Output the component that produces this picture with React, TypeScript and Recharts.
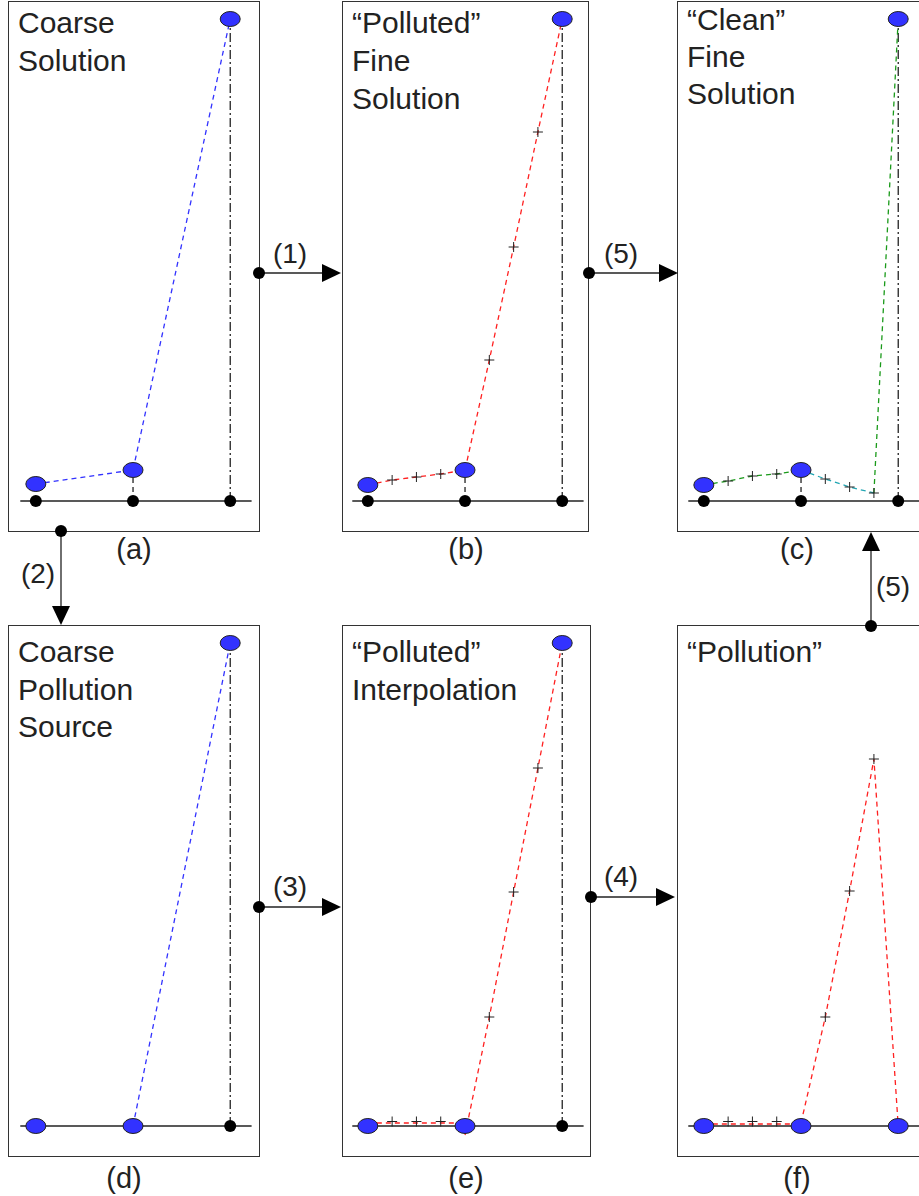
import React from "react";
import { ComposedChart, Line, Scatter, XAxis, YAxis } from "recharts";

// node positions (coarse grid) and fine grid
const nodeX = [0, 1, 2];
const fineX = [0, 0.25, 0.5, 0.75, 1, 1.25, 1.5, 1.75, 2];
const innerX = [0.25, 0.5, 0.75, 1.25, 1.5, 1.75];
const axisX = [-0.16, 2.22];

const coarseA = [1.7, 3.1, 48.2];
const fineB = [1.6, 2.1, 2.4, 2.7, 3.1, 14.1, 25.4, 36.9, 48.2];
const cleanC = [1.6, 2.0, 2.5, 2.7, 3.1, 2.2, 1.4, 0.8, 48.2];
const coarseD = [0, 0, 48.3];
const interpLowE = [0.3, 0.3, 0.3, 0.3, 0.3];
const interpHighE = [-0.9, 10.9, 23.4, 35.8, 48.3];
const interpPlusE = [0.45, 0.45, 0.45, 10.9, 23.4, 35.8];
const pollLowF = [0.2, 0.2, 0.2, 0.2, 0.2];
const pollHighF = [0.3, 10.9, 23.5, 36.7, 0];
const pollPlusF = [0.45, 0.45, 0.45, 10.9, 23.5, 36.7];
const nodeF = [0, 0, 0];

const FONT = '"Liberation Sans", Arial, sans-serif';
const BLUE = "#3232ff";
const RED = "#ff2020";
const GREEN = "#1a9a1a";
const CYAN = "#22a6b3";

type Pt = { x: number; y: number };
const pts = (xs: number[], ys: number[]): Pt[] => xs.map((x, i) => ({ x, y: ys[i] }));

interface LineSpec {
  data: Pt[];
  color: string;
  dash?: string;
  width?: number;
}

interface PanelProps {
  left: number;
  top: number;
  boxW: number;
  boxH: number;
  chartTop: number;
  x0: number; // pixel offset of node 0 inside the panel
  title: string[];
  titleTop: number;
  lineH: number;
  caption: string;
  captionX: number;
  captionY: number;
  lines: LineSpec[];
  pluses: Pt[];
  dots: Pt[];
  ellipses: Pt[];
}

const axisLine = (): LineSpec => ({ data: pts(axisX, [0, 0]), color: "#222", width: 1.4 });
const dashDot = (top: number): LineSpec => ({
  data: pts([2, 2], [0, top]),
  color: "#111",
  dash: "9 3 2 3",
  width: 1.2
});
const shortDash = (top: number): LineSpec => ({
  data: pts([1, 1], [0, top]),
  color: "#111",
  dash: "5 4",
  width: 1.2
});

const EllipseShape = (p: any) => (
  <ellipse cx={p.cx} cy={p.cy} rx={10} ry={7.5} fill={BLUE} stroke="#222" strokeWidth={1} />
);
const DotShape = (p: any) => <circle cx={p.cx} cy={p.cy} r={6} fill="#000" />;
const PlusShape = (p: any) => (
  <path
    d={`M${p.cx - 5},${p.cy}h10M${p.cx},${p.cy - 5}v10`}
    stroke="#222"
    strokeWidth={1}
    fill="none"
  />
);

const UNIT = 98; // px between coarse nodes

function Panel(props: PanelProps) {
  const { left, top, boxW, boxH, chartTop, x0 } = props;
  const mLeft = x0 - 0.2 * UNIT;
  const chartW = 252;
  const mRight = chartW - mLeft - 2.4 * UNIT;
  return (
    <>
      <div
        style={{
          position: "absolute",
          left,
          top,
          width: boxW,
          height: boxH,
          border: "1.5px solid #333",
          boxSizing: "border-box"
        }}
      />
      <div
        style={{
          position: "absolute",
          left: left + 10,
          top: props.titleTop,
          fontFamily: FONT,
          fontSize: 30,
          lineHeight: `${props.lineH}px`,
          color: "#222",
          whiteSpace: "pre"
        }}
      >
        {props.title.join("\n")}
      </div>
      <div
        style={{
          position: "absolute",
          left: props.captionX - 40,
          width: 80,
          top: props.captionY - 18,
          textAlign: "center",
          fontFamily: FONT,
          fontSize: 29,
          lineHeight: "36px",
          color: "#222"
        }}
      >
        {props.caption}
      </div>
      <div style={{ position: "absolute", left, top: chartTop }}>
        <ComposedChart
          width={chartW}
          height={530}
          margin={{ top: 0, right: mRight, bottom: 10, left: mLeft }}
        >
          <XAxis type="number" dataKey="x" domain={[-0.2, 2.2]} hide />
          <YAxis type="number" dataKey="y" domain={[-2, 50]} hide />
          {props.lines.map((l, i) => (
            <Line
              key={`l${i}`}
              data={l.data}
              dataKey="y"
              stroke={l.color}
              strokeWidth={l.width ?? 1.3}
              strokeDasharray={l.dash}
              dot={false}
              activeDot={false}
              isAnimationActive={false}
            />
          ))}
          <Scatter data={props.pluses} shape={PlusShape} isAnimationActive={false} />
          <Scatter data={props.dots} shape={DotShape} isAnimationActive={false} />
          <Scatter data={props.ellipses} shape={EllipseShape} isAnimationActive={false} />
        </ComposedChart>
      </div>
    </>
  );
}

function Arrow({ x1, y1, x2, y2 }: { x1: number; y1: number; x2: number; y2: number }) {
  const dx = x2 - x1;
  const dy = y2 - y1;
  const len = Math.hypot(dx, dy);
  const ux = dx / len;
  const uy = dy / len;
  const bx = x2 - ux * 19;
  const by = y2 - uy * 19;
  const px = -uy * 9;
  const py = ux * 9;
  return (
    <g>
      <line x1={x1} y1={y1} x2={bx} y2={by} stroke="#222" strokeWidth={1.3} />
      <polygon points={`${x2},${y2} ${bx + px},${by + py} ${bx - px},${by - py}`} fill="#000" />
      <circle cx={x1} cy={y1} r={6} fill="#000" />
    </g>
  );
}

const arrowLabels = [
  { t: "(1)", x: 290, y: 253 },
  { t: "(5)", x: 621, y: 253 },
  { t: "(2)", x: 38, y: 573 },
  { t: "(3)", x: 290, y: 886 },
  { t: "(4)", x: 621, y: 876 },
  { t: "(5)", x: 893, y: 586 }
];

export default function App() {
  const fineInner = (ys: number[]) => pts(innerX, [ys[1], ys[2], ys[3], ys[5], ys[6], ys[7]]);
  const nodeDots = pts(nodeX, [0, 0, 0]);

  return (
    <div
      style={{
        position: "absolute",
        left: 0,
        top: 0,
        width: 919,
        height: 1196,
        overflow: "hidden",
        background: "#fff"
      }}
    >
      <Panel
        left={8}
        top={1}
        boxW={252}
        boxH={531}
        chartTop={1}
        x0={28}
        title={["Coarse", "Solution"]}
        titleTop={4}
        lineH={38}
        caption="(a)"
        captionX={134}
        captionY={549}
        lines={[
          axisLine(),
          dashDot(48.2),
          shortDash(3.1),
          { data: pts(nodeX, coarseA), color: BLUE, dash: "5 4" }
        ]}
        pluses={[]}
        dots={nodeDots}
        ellipses={pts(nodeX, coarseA)}
      />
      <Panel
        left={342}
        top={1}
        boxW={247}
        boxH={531}
        chartTop={1}
        x0={26}
        title={["\u201cPolluted\u201d", "Fine", "Solution"]}
        titleTop={4}
        lineH={38}
        caption="(b)"
        captionX={466}
        captionY={549}
        lines={[
          axisLine(),
          dashDot(48.2),
          shortDash(3.1),
          { data: pts(fineX, fineB), color: RED, dash: "5 4" }
        ]}
        pluses={fineInner(fineB)}
        dots={nodeDots}
        ellipses={pts(nodeX, [fineB[0], fineB[4], fineB[8]])}
      />
      <Panel
        left={677}
        top={1}
        boxW={252}
        boxH={531}
        chartTop={1}
        x0={27}
        title={["\u201cClean\u201d", "Fine", "Solution"]}
        titleTop={1}
        lineH={37}
        caption="(c)"
        captionX={797}
        captionY={549}
        lines={[
          axisLine(),
          dashDot(48.2),
          shortDash(3.1),
          { data: pts(fineX.slice(0, 5), cleanC.slice(0, 5)), color: GREEN, dash: "5 4" },
          { data: pts(fineX.slice(4, 8), cleanC.slice(4, 8)), color: CYAN, dash: "5 4" },
          { data: pts(fineX.slice(7, 9), cleanC.slice(7, 9)), color: GREEN, dash: "5 4" }
        ]}
        pluses={fineInner(cleanC)}
        dots={nodeDots}
        ellipses={pts(nodeX, [cleanC[0], cleanC[4], cleanC[8]])}
      />
      <Panel
        left={8}
        top={625}
        boxW={252}
        boxH={532}
        chartTop={626}
        x0={28}
        title={["Coarse", "Pollution", "Source"]}
        titleTop={633}
        lineH={37.5}
        caption="(d)"
        captionX={124}
        captionY={1178}
        lines={[
          axisLine(),
          dashDot(48.3),
          { data: pts(nodeX.slice(1), coarseD.slice(1)), color: BLUE, dash: "5 4" }
        ]}
        pluses={[]}
        dots={nodeDots}
        ellipses={pts(nodeX, coarseD)}
      />
      <Panel
        left={342}
        top={625}
        boxW={249}
        boxH={532}
        chartTop={626}
        x0={26}
        title={["\u201cPolluted\u201d", "Interpolation"]}
        titleTop={633}
        lineH={38}
        caption="(e)"
        captionX={466}
        captionY={1178}
        lines={[
          axisLine(),
          dashDot(48.3),
          { data: pts(fineX.slice(0, 5), interpLowE), color: RED, dash: "5 4" },
          { data: pts(fineX.slice(4), interpHighE), color: RED, dash: "5 4" }
        ]}
        pluses={pts(innerX, interpPlusE)}
        dots={nodeDots}
        ellipses={pts(nodeX, coarseD)}
      />
      <Panel
        left={677}
        top={625}
        boxW={252}
        boxH={532}
        chartTop={626}
        x0={27}
        title={["\u201cPollution\u201d"]}
        titleTop={633}
        lineH={38}
        caption="(f)"
        captionX={797}
        captionY={1178}
        lines={[
          axisLine(),
          { data: pts(fineX.slice(0, 5), pollLowF), color: RED, dash: "5 4" },
          { data: pts(fineX.slice(4), pollHighF), color: RED, dash: "5 4" }
        ]}
        pluses={pts(innerX, pollPlusF)}
        dots={[]}
        ellipses={pts(nodeX, nodeF)}
      />

      {/* process arrows between the panels */}
      <svg
        width={919}
        height={1196}
        style={{ position: "absolute", left: 0, top: 0, pointerEvents: "none" }}
      >
        <Arrow x1={259} y1={273} x2={341} y2={273} />
        <Arrow x1={589} y1={273} x2={678} y2={273} />
        <Arrow x1={61} y1={531} x2={61} y2={625} />
        <Arrow x1={259} y1={907} x2={341} y2={907} />
        <Arrow x1={591} y1={897} x2={675} y2={897} />
        <Arrow x1={871} y1={626} x2={871} y2={532} />
        {arrowLabels.map((l, i) => (
          <text
            key={i}
            x={l.x}
            y={l.y}
            textAnchor="middle"
            dominantBaseline="central"
            fontFamily={FONT}
            fontSize={28}
            fill="#222"
          >
            {l.t}
          </text>
        ))}
      </svg>
    </div>
  );
}
